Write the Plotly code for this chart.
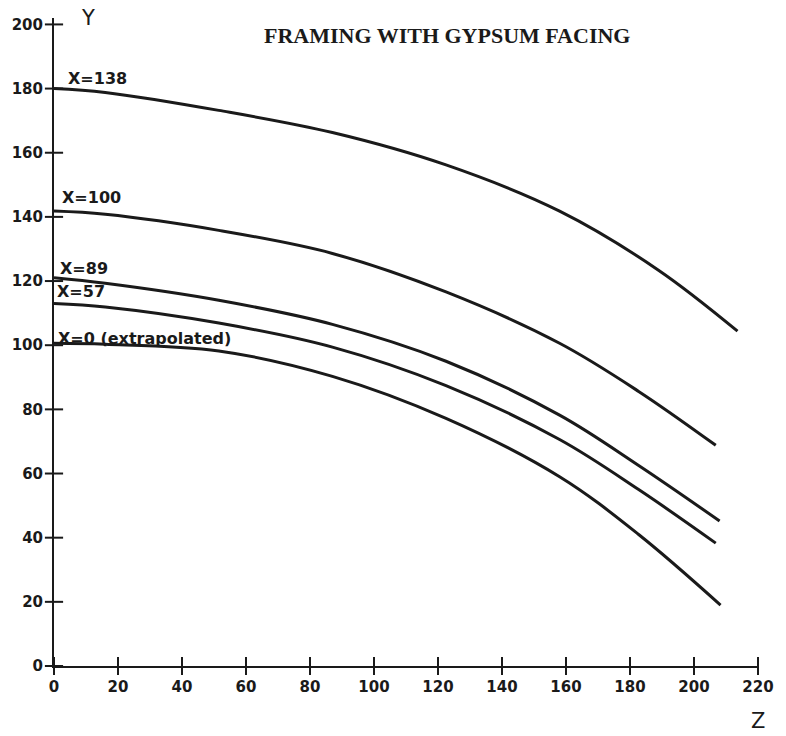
import plotly.graph_objects as go

# ---- data ----
series_names = ["X=138", "X=100", "X=89", "X=57", "X=0 (extrapolated)"]

z_138 = [0, 16, 51.5, 87, 122.5, 158, 188.9, 213.6]
y_138 = [180, 178.8, 173.2, 166.3, 156.2, 141.8, 123.4, 104.4]

z_100 = [0, 16, 51.5, 87, 122.5, 158, 182.7, 206.8]
y_100 = [141.8, 140.8, 135.8, 128.6, 116.6, 100.6, 85.6, 68.8]

z_89 = [0, 16, 51.5, 87, 122.5, 158, 182.7, 208]
y_89 = [121, 119.3, 114.0, 106.5, 95.0, 78.2, 62.5, 45.2]

z_57 = [0, 16, 51.5, 87, 122.5, 158, 182.7, 206.8]
y_57 = [113, 111.9, 106.9, 99.4, 87.4, 70.6, 55.0, 38.3]

z_0 = [0, 16, 51.5, 87, 122.5, 158, 182.7, 208.3]
y_0 = [100.6, 100.3, 98.2, 90.3, 77.2, 59.0, 41.0, 19.0]

# label anchor positions (data coordinates)
label_z = [3.6, 2.0, 1.4, 0.2, 0.6]
label_y = [183, 146, 124, 116.8, 102]

x_ticks = list(range(0, 221, 20))
y_ticks = list(range(0, 201, 20))

title_text = "FRAMING WITH GYPSUM FACING"

zs = [z_138, z_100, z_89, z_57, z_0]
ys = [y_138, y_100, y_89, y_57, y_0]

INK = "#1a1a1a"

fig = go.Figure()
for z, y, name in zip(zs, ys, series_names):
    fig.add_trace(go.Scatter(x=z, y=y, mode="lines", name=name,
                             line=dict(color=INK, width=3, shape="spline", smoothing=1.0),
                             showlegend=False, hoverinfo="skip"))

# crossing tick marks ("+" style) built from the tick lists
fig.add_trace(go.Scatter(x=[0] * len(y_ticks), y=y_ticks, mode="markers", cliponaxis=False,
                         marker=dict(symbol="line-ew", size=13, color=INK,
                                     line=dict(color=INK, width=2)),
                         showlegend=False, hoverinfo="skip"))
fig.add_trace(go.Scatter(x=x_ticks, y=[0] * len(x_ticks), mode="markers", cliponaxis=False,
                         marker=dict(symbol="line-ns", size=13, color=INK,
                                     line=dict(color=INK, width=2)),
                         showlegend=False, hoverinfo="skip"))

lab_font = dict(family="DejaVu Sans", size=16, color=INK, weight="bold")
for name, lz, ly in zip(series_names, label_z, label_y):
    fig.add_annotation(x=lz, y=ly, text=name, showarrow=False, xanchor="left",
                       yanchor="middle", font=lab_font)

# axis titles
fig.add_annotation(xref="paper", yref="paper", x=0.035, y=1.0, text="Y", showarrow=False,
                   xanchor="left", yanchor="middle",
                   font=dict(family="DejaVu Sans", size=21, color=INK))
fig.add_annotation(xref="paper", yref="paper", x=1.0, y=-0.085, text="Z", showarrow=False,
                   xanchor="center", yanchor="middle",
                   font=dict(family="DejaVu Sans", size=21, color=INK))
# chart title
fig.add_annotation(xref="paper", yref="paper", x=0.558, y=0.973, text=title_text,
                   showarrow=False, xanchor="center", yanchor="middle",
                   font=dict(family="Liberation Serif", size=22, color=INK, weight="bold"))

tick_font = dict(family="DejaVu Sans", size=15, color=INK, weight="bold")

fig.update_layout(
    width=786, height=736,
    margin=dict(l=48, r=25, t=18, b=70),
    paper_bgcolor="white", plot_bgcolor="white",
    xaxis=dict(range=[0, 220], tickvals=x_ticks, ticks="outside", ticklen=6,
               tickcolor="rgba(0,0,0,0)", showline=True, showgrid=False, zeroline=False,
               linecolor=INK, linewidth=2, tickfont=tick_font),
    yaxis=dict(range=[0, 202], tickvals=y_ticks, ticks="outside", ticklen=6,
               tickcolor="rgba(0,0,0,0)", showline=True, showgrid=False, zeroline=False,
               linecolor=INK, linewidth=2, tickfont=tick_font),
)

fig.write_html("out.html")
